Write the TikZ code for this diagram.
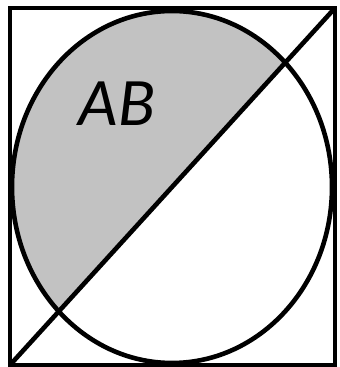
\documentclass[tikz,border=0pt]{standalone}
\usepackage{fontspec}
\newfontfamily\labelfont{Carlito}
\usepackage{tikz}
\tikzset{
setline/.style={line width=4.6pt,black},
setshade/.style={fill=black!24},
setlabel/.style={font=\labelfont\itshape\fontsize{68}{70}\selectfont,inner sep=0pt}
}

\begin{document}
\begin{tikzpicture}[
x=1pt,
y=1pt
]
\useasboundingbox (0,0) rectangle (340,367);
\coordinate (sw) at (10,2);
\coordinate (ne) at (335,359);
\coordinate (mid) at (172,180);
% shaded part of the set above the diagonal
\begin{scope}
\clip (sw) -- (ne) -- (sw |- ne) -- cycle;
\path[setshade] (mid) ellipse [x radius=160,y radius=176];
\end{scope}
\draw[setline] (mid) ellipse [x radius=160,y radius=176];
\draw[setline] (sw) rectangle (ne);
\draw[setline] (sw) -- (ne);
\node[setlabel] (ab) at (117,263) {AB};
\end{tikzpicture}
\end{document}
